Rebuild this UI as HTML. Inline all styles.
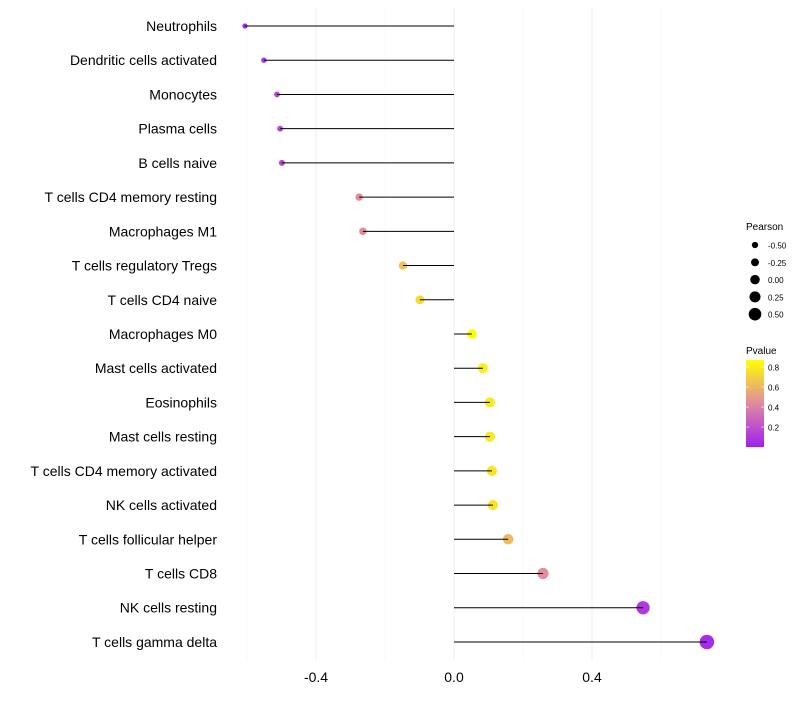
<!DOCTYPE html>
<html><head><meta charset="utf-8"><style>
body{margin:0;background:#fff;font-family:"Liberation Sans",sans-serif}
</style></head><body>
<svg id="chart" width="800" height="700" xmlns="http://www.w3.org/2000/svg" font-family="Liberation Sans, sans-serif"></svg>
<script>
const categories=["Neutrophils","Dendritic cells activated","Monocytes","Plasma cells","B cells naive","T cells CD4 memory resting","Macrophages M1","T cells regulatory  Tregs ","T cells CD4 naive","Macrophages M0","Mast cells activated","Eosinophils","Mast cells resting","T cells CD4 memory activated","NK cells activated","T cells follicular helper","T cells CD8","NK cells resting","T cells gamma delta"];
const pearson=[-0.606,-0.551,-0.513,-0.504,-0.499,-0.275,-0.264,-0.148,-0.099,0.052,0.084,0.104,0.104,0.110,0.113,0.157,0.258,0.548,0.733];
const pvalue=[0.05,0.1,0.15,0.15,0.15,0.45,0.45,0.65,0.75,0.87,0.82,0.8,0.8,0.78,0.78,0.62,0.45,0.1,0.05];
const xTicks=[-0.4,0,0.4];
const xTickLabels=["-0.4","0.0","0.4"];
const minorTicks=[-0.6,-0.2,0.2,0.6];
const sizeLegend=[-0.5,-0.25,0,0.25,0.5];
const sizeLegendLabels=["-0.50","-0.25","0.00","0.25","0.50"];
const pLegend=[0.2,0.4,0.6,0.8];

const svg=document.getElementById('chart');
const NS="http://www.w3.org/2000/svg";
function mk(tag,attrs,parent){const e=document.createElementNS(NS,tag);for(const k in attrs)e.setAttribute(k,attrs[k]);(parent||svg).appendChild(e);return e;}
const x=v=>454+v*345;
const y=i=>26+i*34.22;
const r=v=>Math.max(2.2,4.7+v*3.5);
function col(p){const t=Math.max(0,Math.min(1,p/0.88));
 const a=[160,32,240],m=[224,138,160],b=[255,255,0];let c;
 if(t<0.5){const s=t/0.5;c=a.map((v,i)=>v+(m[i]-v)*s);}else{const s=(t-0.5)/0.5;c=m.map((v,i)=>v+(b[i]-v)*s);}
 return `rgb(${c.map(Math.round).join(',')})`;}

minorTicks.forEach(v=>{const l=mk('line',{x1:x(v),x2:x(v),y1:8,y2:660,stroke:'#f4f4f4','stroke-width':0.6});
});
xTicks.forEach((v,i)=>{const l=mk('line',{x1:x(v),x2:x(v),y1:8,y2:660,stroke:'#ededed','stroke-width':1});

const t=mk('text',{x:x(v),y:682,'text-anchor':'middle','font-size':14,fill:'#000'});t.textContent=xTickLabels[i];
});

categories.forEach((c,i)=>{
 const t=mk('text',{x:217,y:y(i)+5,'text-anchor':'end','font-size':14,fill:'#000'});t.textContent=c;
 
 const p=mk('circle',{cx:x(pearson[i]),cy:y(i),r:r(pearson[i]),fill:col(pvalue[i])});
 
 const l=mk('line',{x1:x(0),x2:x(pearson[i]),y1:y(i),y2:y(i),stroke:'#000','stroke-width':1});
 
});

const lt=mk('text',{x:746,y:230,'font-size':10,fill:'#000'});lt.textContent='Pearson';

sizeLegend.forEach((v,i)=>{const yy=245+i*17.3;
 const c=mk('circle',{cx:755,cy:yy,r:r(v)*0.9+0.5,fill:'#000'});
 
 const t=mk('text',{x:768,y:yy+3.5,'font-size':8,fill:'#000'});t.textContent=sizeLegendLabels[i];
 });

const pt=mk('text',{x:746,y:354,'font-size':10,fill:'#000'});pt.textContent='Pvalue';

const defs=mk('defs',{});const g=mk('linearGradient',{id:'pg',x1:0,y1:1,x2:0,y2:0},defs);
[0,0.5,1].forEach(o=>mk('stop',{offset:o,'stop-color':col(o*0.88)},g));
const bar=mk('rect',{x:746,y:360,width:18,height:87,fill:'url(#pg)'});

const py=p=>447-p*100;
pLegend.forEach(p=>{
 mk('line',{x1:746,x2:749,y1:py(p),y2:py(p),stroke:'#fff','stroke-width':0.6});
 mk('line',{x1:761,x2:764,y1:py(p),y2:py(p),stroke:'#fff','stroke-width':0.6});
 const t=mk('text',{x:768,y:py(p)+3.5,'font-size':8,fill:'#000'});t.textContent=p.toFixed(1);
 });
</script>
</body></html>
